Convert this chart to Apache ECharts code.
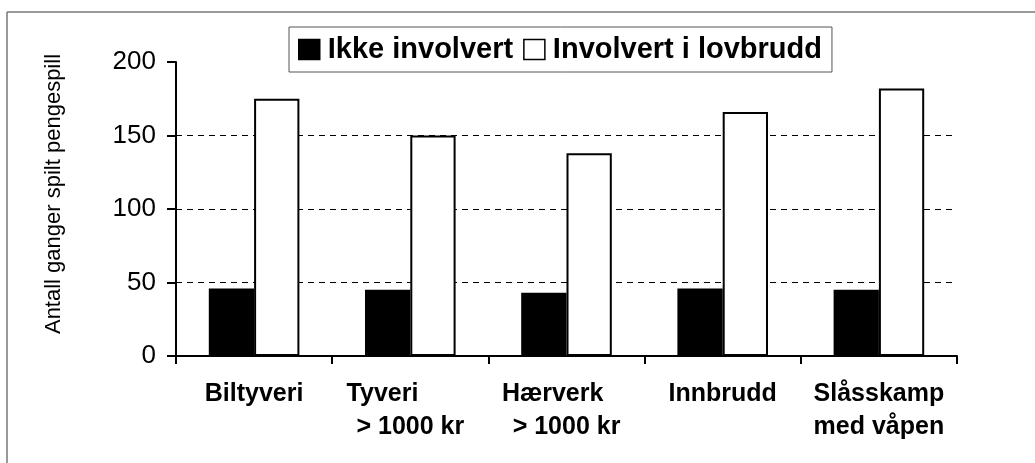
<!DOCTYPE html>
<html>
<head>
<meta charset="utf-8">
<script src="https://cdn.jsdelivr.net/npm/echarts@6/dist/echarts.min.js"></script>
<style>
  html, body { margin: 0; padding: 0; background: #fff; }
  #main { width: 1035px; height: 463px; }
</style>
</head>
<body>
<div id="main"></div>
<script>
// kategorier og verdier
var kategorier = ['Biltyveri', 'Tyveri', 'Hærverk', 'Innbrudd', 'Slåsskamp'];
var etiketter = ['Biltyveri', 'Tyveri        \n> 1000 kr', 'Hærverk    \n> 1000 kr', 'Innbrudd', 'Slåsskamp\nmed våpen'];
var ikkeInvolvert = [46, 45, 43, 46, 45];
var involvert = [175, 150, 138, 166, 182];
var seriesNavn = ['Ikke involvert', 'Involvert i lovbrudd'];
var yTittel = 'Antall ganger spilt pengespill';

var font = 'Liberation Sans, Arial, sans-serif';
var chart = echarts.init(document.getElementById('main'));

var option = {
  backgroundColor: '#fff',
  animation: false,
  grid: { left: 176, right: 78, top: 62, bottom: 107 },
  legend: {
    data: seriesNavn,
    left: 289,
    top: 27,
    padding: [8, 10, 8, 9],
    itemGap: 10,
    itemWidth: 21,
    itemHeight: 20,
    icon: 'rect',
    backgroundColor: '#fff',
    borderColor: '#555',
    borderWidth: 1,
    itemStyle: { borderWidth: 1.5 },
    textStyle: { fontFamily: font, fontSize: 29, fontWeight: 'bold', color: '#000', padding: [0, 0, 0, 3] }
  },
  xAxis: {
    type: 'category',
    data: kategorier,
    axisLine: { lineStyle: { color: '#000', width: 2 } },
    axisTick: { show: true, length: 8, lineStyle: { color: '#000', width: 2 } },
    axisLabel: {
      margin: 22,
      interval: 0,
      fontFamily: font,
      fontSize: 25,
      fontWeight: 'bold',
      color: '#000',
      lineHeight: 33,
      formatter: function (v, i) { return etiketter[i]; }
    }
  },
  yAxis: {
    type: 'value',
    min: 0,
    max: 200,
    interval: 50,
    axisLine: { show: true, lineStyle: { color: '#000', width: 2 } },
    axisTick: { show: true, length: 9, lineStyle: { color: '#000', width: 2 } },
    axisLabel: { margin: 20, fontFamily: font, fontSize: 26, color: '#000' },
    splitLine: {
      show: true,
      showMaxLine: false,
      lineStyle: { color: '#000', width: 1, type: [6, 5] }
    }
  },
  series: [
    {
      name: seriesNavn[0],
      type: 'bar',
      data: ikkeInvolvert,
      barWidth: '29%',
      barGap: '0%',
      itemStyle: { color: '#000', borderColor: '#000', borderWidth: 2 }
    },
    {
      name: seriesNavn[1],
      type: 'bar',
      data: involvert,
      barWidth: '29%',
      itemStyle: { color: '#fff', borderColor: '#000', borderWidth: 2 }
    }
  ],
  graphic: [
    {
      type: 'text',
      x: 54,
      y: 194,
      rotation: Math.PI / 2,
      style: {
        text: yTittel,
        fontFamily: font,
        fontSize: 22,
        fill: '#000',
        align: 'center',
        verticalAlign: 'middle'
      }
    },
    { type: 'line', shape: { x1: 7, y1: 12, x2: 1035, y2: 12 }, style: { stroke: '#777', lineWidth: 1.5 } },
    { type: 'line', shape: { x1: 7, y1: 12, x2: 7, y2: 463 }, style: { stroke: '#777', lineWidth: 1.5 } }
  ]
};

chart.setOption(option);
</script>
</body>
</html>
